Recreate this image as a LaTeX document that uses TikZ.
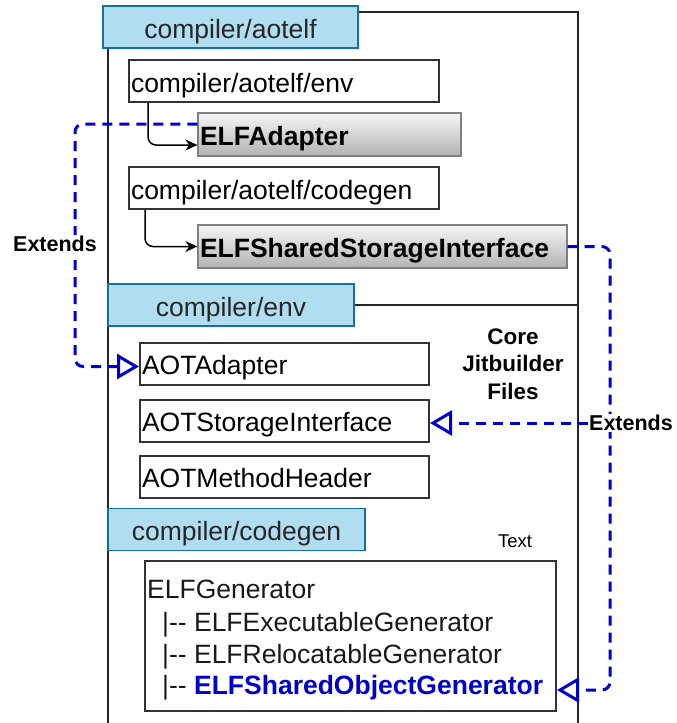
\documentclass[tikz,border=0pt]{standalone}
\usepackage{fontspec}
\setmainfont{Liberation Sans}
\usetikzlibrary{arrows.meta,calc}
\definecolor{hdrfill}{HTML}{B1DDF0}
\definecolor{hdrline}{HTML}{10739E}
\definecolor{extblue}{HTML}{0000CC}
\definecolor{boxline}{HTML}{333333}
\definecolor{gtop}{HTML}{F5F5F5}
\definecolor{gbot}{HTML}{B3B3B3}
\definecolor{gline}{HTML}{808080}
\begin{document}
\begin{tikzpicture}[x=1pt,y=-1pt,
  hdr/.style={draw=hdrline, line width=1.5pt, fill=hdrfill, minimum height=42pt, inner sep=0pt,
    text height=23.5pt, text depth=1.5pt, text=black!85, font=\fontsize{26.5}{30}\selectfont},
  fbox/.style={draw=boxline, line width=2pt, fill=white, minimum height=42pt, inner xsep=2pt, inner ysep=0pt,
    text height=23.5pt, text depth=1.5pt, align=left, font=\fontsize{26.5}{31.7}\selectfont},
  gbox/.style={draw=gline, line width=1.3pt, top color=gtop, bottom color=gbot, minimum height=43pt,
    text height=23.5pt, text depth=1.5pt,
    inner xsep=2pt, inner ysep=0pt, align=left, font=\bfseries\fontsize{26.5}{30}\selectfont},
  gline/.style={anchor=base west, inner sep=0pt, text=black!90, font=\fontsize{26.5}{31.7}\selectfont},
  frame/.style={draw=black!85, line width=1.6pt},
  conn/.style={draw=black, line width=1.5pt, rounded corners=8pt, -{Stealth[length=12pt,width=11pt]}},
  ext/.style={draw=extblue, line width=3pt, dash pattern=on 10pt off 7pt, rounded corners=8pt,
    -{Triangle[open,length=22pt,width=25pt,line width=3pt]}},
  extlbl/.style={fill=white, inner sep=1pt, font=\bfseries\fontsize{21.5}{24}\selectfont}
]
\useasboundingbox (0,0) rectangle (677,723);

% container frame
\draw[frame] (108,723) -- (108,12) -- (578,12) -- (578,723);
\draw[frame] (354,305) -- (578,305);

% aotelf section
\node[hdr, minimum width=255pt] (haot) at (230.5,27) {compiler/aotelf};
\node[fbox, text width=306pt] (env) at (284,81) {compiler/aotelf/env};
\node[gbox, text width=259pt] (elfa) at (329.5,134.5) {ELFAdapter};
\node[fbox, text width=306pt] (cg) at (284,188) {compiler/aotelf/codegen};
\node[gbox, text width=365pt] (ssi) at (382.5,246.5) {ELFSharedStorageInterface};

% env section
\node[hdr, minimum width=246pt] (henv) at (231,305) {compiler/env};
\node[fbox, text width=285pt] (aota) at (284.5,363.5) {AOTAdapter};
\node[fbox, text width=285pt] (aotsi) at (284.5,420.5) {AOTStorageInterface};
\node[fbox, text width=285pt] (aotmh) at (284.5,476.5) {AOTMethodHeader};

% codegen section
\node[hdr, minimum width=257pt] (hcg) at (236.5,529.5) {compiler/codegen};
\node[draw=boxline, line width=2pt, fill=white, minimum width=411pt, minimum height=150pt, inner sep=0pt] (gen) at (350.5,636) {};
\node[gline] (g0) at (147,598) {ELFGenerator};
\node[gline] (g1) at (162,631) {|-{}- ELFExecutableGenerator};
\node[gline] (g2) at (162,663) {|-{}- ELFRelocatableGenerator};
\node[gline] (g3) at (162,694) {|-{}- \textcolor{extblue}{\textbf{ELFSharedObjectGenerator}}};

\node[align=center, font=\bfseries\fontsize{22.5}{27.5}\selectfont] (core) at (513,364) {Core\\Jitbuilder\\Files};
\node[font=\fontsize{18.5}{22}\selectfont] (txt) at (515,541) {Text};

% black connectors
\draw[conn] ([xshift=20pt]env.south west) |- ([yshift=-10.5pt]elfa.west);
\draw[conn] ([xshift=17pt]cg.south west) |- (ssi.west);

% blue extends
\coordinate (lx) at (75,240);
\draw[ext] ([yshift=10.5pt]elfa.west) -| (lx) |- ([yshift=-3pt]aota.west);
\node[extlbl] (ext1) at (55,244) {Extends};

\coordinate (rx) at (610,400);
\draw[ext] (ssi.east) -| (rx) |- ([yshift=-54pt]gen.east);
\node[extlbl] (ext2) at (631,423) {Extends};
\draw[ext] (ext2.west) -- (ext2.west -| aotsi.east);
\end{tikzpicture}
\end{document}
